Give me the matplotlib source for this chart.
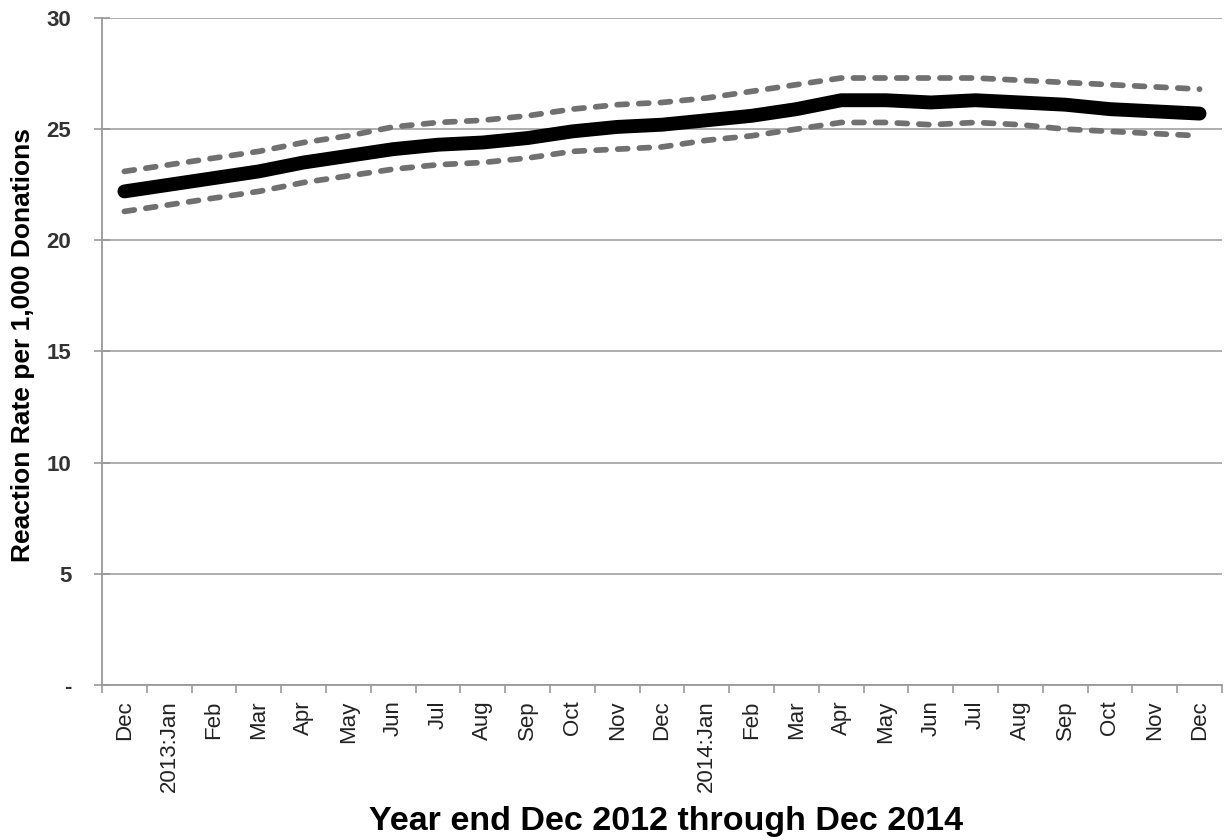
import matplotlib
matplotlib.use("Agg")
import matplotlib.pyplot as plt
from matplotlib.ticker import FixedLocator

months = ["Dec", "2013:Jan", "Feb", "Mar", "Apr", "May", "Jun", "Jul", "Aug",
          "Sep", "Oct", "Nov", "Dec", "2014:Jan", "Feb", "Mar", "Apr", "May",
          "Jun", "Jul", "Aug", "Sep", "Oct", "Nov", "Dec"]

rate = [22.2, 22.5, 22.8, 23.1, 23.5, 23.8, 24.1, 24.3, 24.4, 24.6, 24.9, 25.1,
        25.2, 25.4, 25.6, 25.9, 26.3, 26.3, 26.2, 26.3, 26.2, 26.1, 25.9, 25.8, 25.7]
upper = [23.1, 23.4, 23.7, 24.0, 24.4, 24.7, 25.1, 25.3, 25.4, 25.6, 25.9, 26.1,
         26.2, 26.4, 26.7, 27.0, 27.3, 27.3, 27.3, 27.3, 27.2, 27.1, 27.0, 26.9, 26.8]
lower = [21.3, 21.6, 21.9, 22.2, 22.6, 22.9, 23.2, 23.4, 23.5, 23.7, 24.0, 24.1,
         24.2, 24.5, 24.7, 25.0, 25.3, 25.3, 25.2, 25.3, 25.2, 25.0, 24.9, 24.8, 24.7]

y_ticks = [0, 5, 10, 15, 20, 25, 30]
y_labels = ["-", "5", "10", "15", "20", "25", "30"]

plt.rcParams["font.family"] = ["Liberation Sans", "DejaVu Sans"]

fig = plt.figure(figsize=(12.26, 8.4), dpi=100)
ax = fig.add_axes([0.0832, 0.1845, 0.9135, 0.7941])

x = list(range(len(months)))
ax.plot(x, upper, color="#707070", lw=4.1, dashes=(1.75, 2.05),
        dash_capstyle="round", zorder=3)
ax.plot(x, lower, color="#707070", lw=4.1, dashes=(1.75, 2.05),
        dash_capstyle="round", zorder=3)
ax.plot(x, rate, color="black", lw=10, solid_capstyle="round",
        solid_joinstyle="round", zorder=4)

ax.set_xlim(-0.5, len(months) - 0.5)
ax.set_ylim(0, 30)

ax.set_yticks(y_ticks)
ax.set_yticklabels(y_labels, fontsize=16, fontweight="bold", color="#333333")
ax.yaxis.grid(True, color="#a8a8a8", lw=1.3)
ax.set_axisbelow(True)

ax.set_xticks(x)
ax.set_xticklabels(months, rotation=90, fontsize=16, color="#222222")
ax.tick_params(axis="x", which="major", length=0, pad=11)
ax.xaxis.set_minor_locator(FixedLocator([i - 0.5 for i in range(len(months) + 1)]))
ax.tick_params(axis="x", which="minor", length=6, color="#999999", width=1.2)
ax.tick_params(axis="y", direction="inout", length=12, color="#999999",
               width=1.2, pad=16)

for side in ["top", "right"]:
    ax.spines[side].set_visible(False)
for side in ["left", "bottom"]:
    ax.spines[side].set_color("#999999")
    ax.spines[side].set_linewidth(1.3)

ax.set_ylabel("Reaction Rate per 1,000 Donations", fontsize=19, fontweight="bold")
ax.yaxis.set_label_coords(-0.060, 0.51)
ax.set_xlabel("Year end Dec 2012 through Dec 2014", fontsize=24.5, fontweight="bold")
ax.xaxis.set_label_coords(0.504, -0.181)

fig.savefig("out.png", dpi=100)
